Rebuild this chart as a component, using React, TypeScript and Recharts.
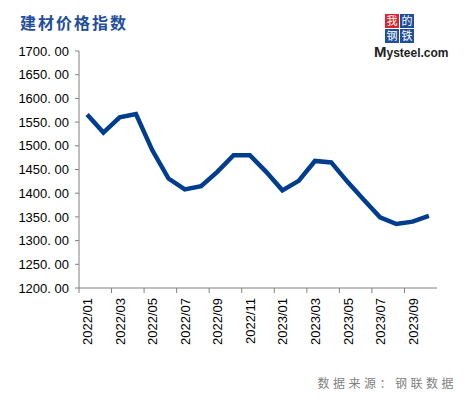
import { LineChart, Line, XAxis, YAxis } from "recharts";

const months = [
  "2022/01", "2022/02", "2022/03", "2022/04", "2022/05", "2022/06",
  "2022/07", "2022/08", "2022/09", "2022/10", "2022/11", "2022/12",
  "2023/01", "2023/02", "2023/03", "2023/04", "2023/05", "2023/06",
  "2023/07", "2023/08", "2023/09", "2023/10",
];

const priceIndex = [
  1566, 1528, 1560, 1567, 1491, 1431, 1408, 1415, 1445, 1480, 1480, 1445,
  1406, 1426, 1468, 1465, 1424, 1386, 1349, 1335, 1340, 1352,
];

const yTicks = [1200, 1250, 1300, 1350, 1400, 1450, 1500, 1550, 1600, 1650, 1700];

const data = months.map((m, i) => ({ month: m, value: priceIndex[i] }));

const BAND = 358 / months.length;

function MonthTick(props: any) {
  const { x, y, payload, index } = props;
  const left = x - BAND / 2;
  return (
    <g>
      <line x1={left} y1={y} x2={left} y2={y + 5} stroke="#808080" />
      {index === 20 && (
        <line x1={x + BAND * 1.5} y1={y} x2={x + BAND * 1.5} y2={y + 5} stroke="#808080" />
      )}
      <text
        x={0}
        y={0}
        transform={`translate(${x + 5},${y + 10}) rotate(-90)`}
        textAnchor="end"
        fontSize={13}
        fontFamily="Liberation Sans, Arial, sans-serif"
        fill="#000"
      >
        {payload.value}
      </text>
    </g>
  );
}

export default function App() {
  return (
    <div style={{ position: "absolute", left: 0, top: 0, width: 465, height: 397, background: "#fff" }}>
      <div
        style={{
          position: "absolute",
          left: 20,
          top: 10,
          fontFamily: "Noto Sans CJK SC, sans-serif",
          fontWeight: 700,
          fontSize: 16,
          letterSpacing: 2,
          color: "#1f4e9a",
        }}
      >
        建材价格指数
      </div>
      <svg style={{ position: "absolute", left: 370, top: 10 }} width={92} height={52}>
        <rect x={15} y={4} width={14} height={14} fill="#d7262b" />
        <rect x={30} y={4} width={14} height={14} fill="#1f4e9a" />
        <rect x={15} y={19} width={14} height={14} fill="#1f4e9a" />
        <rect x={30} y={19} width={14} height={14} fill="#1f4e9a" />
        <g fontFamily="Noto Sans CJK SC, sans-serif" fontSize={11} fill="#fff" textAnchor="middle">
          <text x={22} y={15}>我</text>
          <text x={37} y={15}>的</text>
          <text x={22} y={30}>钢</text>
          <text x={37} y={30}>铁</text>
        </g>
        <text x={4} y={47} fontFamily="Liberation Sans, Arial, sans-serif" fontSize={15} fontWeight={700} fill="#222">
          M<tspan fontSize={12}>ysteel.com</tspan>
        </text>
      </svg>
      <LineChart
        width={465}
        height={397}
        data={data}
        margin={{ top: 51, right: 28, bottom: 49, left: 0 }}
      >
        <XAxis
          dataKey="month"
          scale="band"
          interval={1}
          height={60}
          tickSize={0}
          tickMargin={0}
          tickLine={false}
          axisLine={{ stroke: "#808080" }}
          tick={<MonthTick />}
        />
        <YAxis
          width={79}
          domain={[1200, 1700]}
          ticks={yTicks}
          interval={0}
          tickSize={4}
          tickMargin={6}
          axisLine={{ stroke: "#808080" }}
          tickLine={{ stroke: "#808080" }}
          tickFormatter={(v: number) => v.toFixed(2).replace(".", ". ")}
          tick={{ fontSize: 13, fill: "#000", fontFamily: "Liberation Sans, Arial, sans-serif" }}
        />
        <Line
          type="linear"
          dataKey="value"
          stroke="#003d8f"
          strokeWidth={4.5}
          dot={false}
          isAnimationActive={false}
        />
      </LineChart>
      <div
        style={{
          position: "absolute",
          right: 8,
          top: 374,
          fontFamily: "Noto Sans CJK SC, sans-serif",
          fontSize: 12,
          letterSpacing: 3.5,
          color: "#7f7f7f",
        }}
      >
        数据来源：钢联数据
      </div>
    </div>
  );
}
